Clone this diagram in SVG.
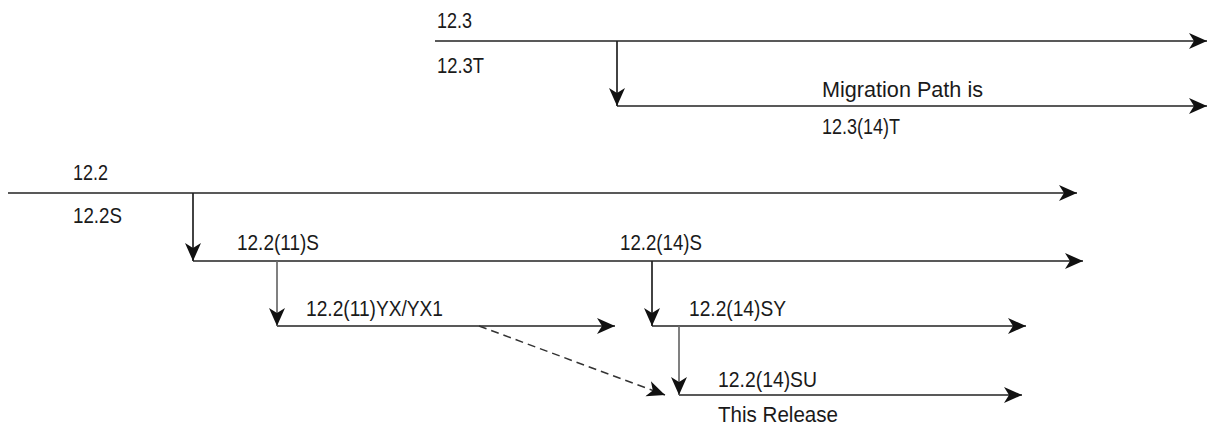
<svg xmlns="http://www.w3.org/2000/svg" width="1207" height="426" viewBox="0 0 1207 426">
<style>
text{font-family:"Liberation Sans",Arial,sans-serif;font-size:22.5px;fill:#1a1a1a}
.ln{stroke:#222;stroke-width:1.7;fill:none}
.gr{stroke:#6a6a6a;stroke-width:1.7;fill:none}
.da{stroke:#333;stroke-width:1.5;fill:none;stroke-dasharray:8 5}
</style>
<defs>
<marker id="ah" markerUnits="userSpaceOnUse" markerWidth="20" markerHeight="18" refX="18" refY="8" orient="auto" viewBox="0 0 20 18">
<path d="M0,0 L18,8 L0,16 L5,8 Z" fill="#111"/>
</marker>
</defs>
<rect width="1207" height="426" fill="#fff"/>
<g id="n-12-3">
<line class="ln" x1="435" y1="41" x2="1207" y2="41" marker-end="url(#ah)"/>
<text x="437" y="28" textLength="35" lengthAdjust="spacingAndGlyphs">12.3</text>
<text x="437" y="73" textLength="47" lengthAdjust="spacingAndGlyphs">12.3T</text>
</g>
<g id="n-12-3-14-T">
<line class="ln" x1="617" y1="106" x2="1207" y2="106" marker-end="url(#ah)"/>
<text x="822" y="97" textLength="161" lengthAdjust="spacingAndGlyphs">Migration Path is</text>
<text x="822" y="134" textLength="78" lengthAdjust="spacingAndGlyphs">12.3(14)T</text>
</g>
<g id="n-12-2">
<line class="ln" x1="8" y1="193" x2="1077" y2="193" marker-end="url(#ah)"/>
<text x="73" y="180" textLength="35" lengthAdjust="spacingAndGlyphs">12.2</text>
<text x="73" y="223" textLength="49" lengthAdjust="spacingAndGlyphs">12.2S</text>
</g>
<g id="n-12-2-11-S">
<line class="ln" x1="193" y1="261" x2="1083" y2="261" marker-end="url(#ah)"/>
<text x="237" y="250" textLength="82" lengthAdjust="spacingAndGlyphs">12.2(11)S</text>
<text x="620" y="250" textLength="82" lengthAdjust="spacingAndGlyphs">12.2(14)S</text>
</g>
<g id="n-12-2-11-YX">
<line class="ln" x1="277" y1="326" x2="615" y2="326" marker-end="url(#ah)"/>
<text x="306" y="316" textLength="137" lengthAdjust="spacingAndGlyphs">12.2(11)YX/YX1</text>
</g>
<g id="n-12-2-14-SY">
<line class="ln" x1="652" y1="326" x2="1026" y2="326" marker-end="url(#ah)"/>
<text x="689" y="316" textLength="97" lengthAdjust="spacingAndGlyphs">12.2(14)SY</text>
</g>
<g id="n-12-2-14-SU">
<line class="ln" x1="679" y1="395" x2="1022" y2="395" marker-end="url(#ah)"/>
<text x="718" y="387" textLength="99" lengthAdjust="spacingAndGlyphs">12.2(14)SU</text>
<text x="718" y="422" textLength="120" lengthAdjust="spacingAndGlyphs">This Release</text>
</g>
<g id="connectors">
<line class="ln" x1="617" y1="41" x2="617" y2="106" marker-end="url(#ah)"/>
<line class="ln" x1="193" y1="193" x2="193" y2="261" marker-end="url(#ah)"/>
<line class="gr" x1="277" y1="261" x2="277" y2="326" marker-end="url(#ah)"/>
<line class="ln" x1="652" y1="261" x2="652" y2="326" marker-end="url(#ah)"/>
<line class="gr" x1="679" y1="326" x2="679" y2="395" marker-end="url(#ah)"/>
<line class="da" x1="479" y1="326" x2="665" y2="395" marker-end="url(#ah)"/>
</g>
</svg>
